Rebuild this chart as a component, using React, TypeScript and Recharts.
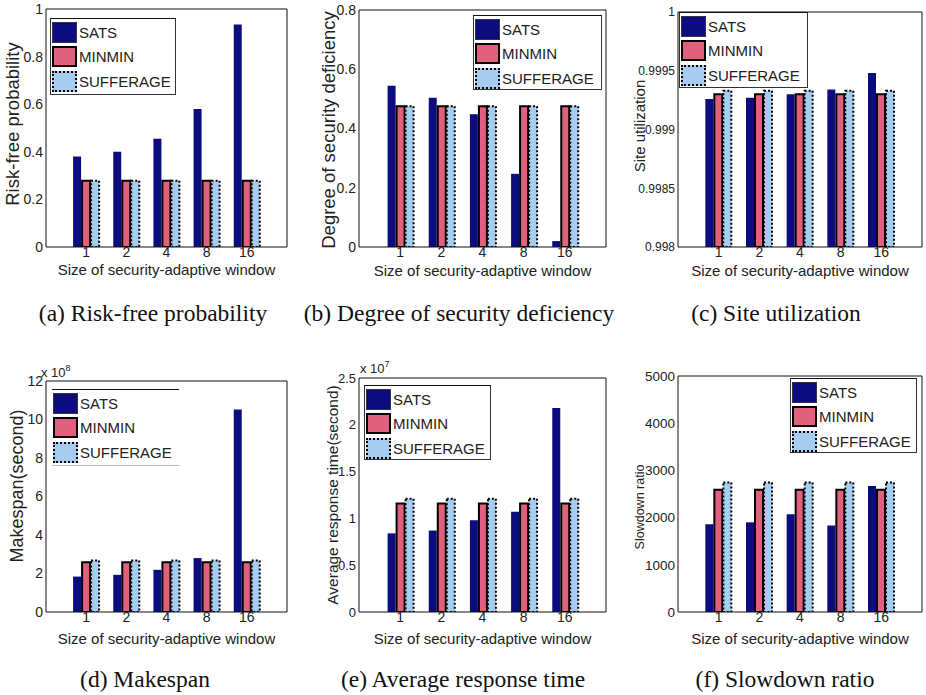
import React from 'react';
import { BarChart, Bar, XAxis, YAxis, Legend } from 'recharts';

// window sizes on the x axis
const windows = ['1', '2', '4', '8', '16'];

// (a) risk-free probability
const riskSats = [0.38, 0.4, 0.455, 0.58, 0.935];
const riskMinmin = [0.278, 0.278, 0.278, 0.278, 0.278];
const riskSufferage = [0.278, 0.278, 0.278, 0.278, 0.278];
const riskTicks = [0, 0.2, 0.4, 0.6, 0.8, 1];

// (b) degree of security deficiency
const defSats = [0.544, 0.504, 0.448, 0.247, 0.02];
const defMinmin = [0.475, 0.475, 0.475, 0.475, 0.475];
const defSufferage = [0.475, 0.475, 0.475, 0.475, 0.475];
const defTicks = [0, 0.2, 0.4, 0.6, 0.8];

// (c) site utilization
const utilSats = [0.99926, 0.99927, 0.9993, 0.99934, 0.99948];
const utilMinmin = [0.9993, 0.9993, 0.9993, 0.9993, 0.9993];
const utilSufferage = [0.99933, 0.99933, 0.99933, 0.99933, 0.99933];
const utilTicks = [0.998, 0.9985, 0.999, 0.9995, 1];

// (d) makespan, x 10^8 seconds
const makeSats = [1.84, 1.93, 2.19, 2.8, 10.52];
const makeMinmin = [2.58, 2.58, 2.58, 2.58, 2.58];
const makeSufferage = [2.67, 2.67, 2.67, 2.67, 2.67];
const makeTicks = [0, 2, 4, 6, 8, 10, 12];

// (e) average response time, x 10^7 seconds
const respSats = [0.84, 0.87, 0.98, 1.07, 2.18];
const respMinmin = [1.16, 1.16, 1.16, 1.16, 1.16];
const respSufferage = [1.21, 1.21, 1.21, 1.21, 1.21];
const respTicks = [0, 0.5, 1, 1.5, 2, 2.5];

// (f) slowdown ratio
const slowSats = [1860, 1900, 2070, 1830, 2670];
const slowMinmin = [2590, 2590, 2590, 2590, 2590];
const slowSufferage = [2745, 2745, 2745, 2745, 2745];
const slowTicks = [0, 1000, 2000, 3000, 4000, 5000];

const SANS = '"Liberation Sans", Arial, sans-serif';
const SERIF = '"Liberation Serif", "Times New Roman", serif';
const NAVY = '#0c0c80';
const PINK = '#e0607e';
const SKY = '#a6cdf0';
const INK = '#222';

const panels = [
  {
    sats: riskSats, minmin: riskMinmin, suff: riskSufferage, ticks: riskTicks,
    x: 46, y: 9, w: 241, h: 238, tickSize: 14,
    ylabel: 'Risk-free probability', yl: { x: 13, y: 124, s: 18.5 },
    legend: { x: 50, y: 18, w: 126, h: 77 },
    xlabelY: 269, caption: '(a) Risk-free probability', cap: { x: 153, y: 302 },
  },
  {
    sats: defSats, minmin: defMinmin, suff: defSufferage, ticks: defTicks,
    x: 359, y: 10, w: 247, h: 237, tickSize: 14,
    ylabel: 'Degree of security deficiency', yl: { x: 329, y: 130, s: 18.5 },
    legend: { x: 473, y: 15, w: 129, h: 75 },
    xlabelY: 270, caption: '(b) Degree of security deficiency', cap: { x: 459, y: 302 },
  },
  {
    sats: utilSats, minmin: utilMinmin, suff: utilSufferage, ticks: utilTicks,
    x: 678, y: 12, w: 244, h: 235, tickSize: 12,
    ylabel: 'Site utilization', yl: { x: 639, y: 126, s: 15 },
    legend: { x: 679, y: 12, w: 129, h: 76 },
    xlabelY: 270, caption: '(c) Site utilization', cap: { x: 776, y: 302 },
  },
  {
    sats: makeSats, minmin: makeMinmin, suff: makeSufferage, ticks: makeTicks,
    x: 46, y: 381, w: 241, h: 231, tickSize: 14,
    ylabel: 'Makespan(second)', yl: { x: 17, y: 486, s: 18 },
    legend: { x: 52, y: 389, w: 127, h: 77, open: true },
    exp: { x: 41, y: 364, e: '8' },
    xlabelY: 638, caption: '(d) Makespan', cap: { x: 145, y: 668 },
  },
  {
    sats: respSats, minmin: respMinmin, suff: respSufferage, ticks: respTicks,
    x: 359, y: 378, w: 247, h: 234, tickSize: 13,
    ylabel: 'Average response time(second)', yl: { x: 333, y: 495, s: 15.5 },
    legend: { x: 364, y: 385, w: 127, h: 75 },
    exp: { x: 360, y: 360, e: '7' },
    xlabelY: 638, caption: '(e) Average response time', cap: { x: 463, y: 668 },
  },
  {
    sats: slowSats, minmin: slowMinmin, suff: slowSufferage, ticks: slowTicks,
    x: 678, y: 376, w: 244, h: 236, tickSize: 13.5,
    ylabel: 'Slowdown ratio', yl: { x: 640, y: 507, s: 12.5 },
    legend: { x: 790, y: 378, w: 127, h: 75 },
    xlabelY: 638, caption: '(f) Slowdown ratio', cap: { x: 785, y: 668 },
  },
];

const swatches = [
  { name: 'SATS', style: { background: NAVY, border: '1px solid #334' } },
  { name: 'MINMIN', style: { background: PINK, border: '2px solid #000' } },
  { name: 'SUFFERAGE', style: { background: SKY, border: '2px dotted #000' } },
];

const LegendBox = ({ w, h, open }: any) => (
  <div
    style={{
      width: w, height: h, boxSizing: 'border-box', background: '#fff',
      border: open ? 'none' : '1px solid #333',
      borderTop: '1px solid #111', borderBottom: open ? '1px solid #bbb' : '1px solid #333',
      paddingTop: 1, fontFamily: SANS, fontSize: 15, color: INK,
    }}
  >
    {swatches.map((s) => (
      <div key={s.name} style={{ display: 'flex', alignItems: 'center', height: 24.5 }}>
        <div style={{ width: 25, height: 21, marginLeft: 1, boxSizing: 'border-box', ...s.style }} />
        <span style={{ marginLeft: 2, lineHeight: 1 }}>{s.name}</span>
      </div>
    ))}
  </div>
);

const ML = 50, MT = 12, MB = 28, MR = 8;

function Panel({ p }: { p: any }) {
  const data = windows.map((w, i) => ({
    name: w, SATS: p.sats[i], MINMIN: p.minmin[i], SUFFERAGE: p.suff[i],
  }));
  const pad = p.w / 12;
  const domain = [p.ticks[0], p.ticks[p.ticks.length - 1]];
  const frame = { stroke: '#111', strokeWidth: 1 };
  return (
    <div style={{ position: 'absolute', left: p.x - ML, top: p.y - MT }}>
      <BarChart
        width={p.w + ML + MR}
        height={p.h + MT + MB}
        data={data}
        margin={{ top: MT, right: MR, bottom: 0, left: 0 }}
        barSize={8}
        barGap={1}
      >
        <XAxis
          dataKey="name" height={MB} interval={0} padding={{ left: pad, right: pad }}
          axisLine={frame} tickLine={false} tickSize={0} tickMargin={0}
          tick={{ fill: INK, fontSize: 14, fontFamily: SANS }}
        />
        <XAxis
          xAxisId="top" orientation="top" mirror dataKey="name" interval={0}
          padding={{ left: pad, right: pad }} axisLine={frame} tick={false}
          tickSize={3} tickLine={frame}
        />
        <XAxis
          xAxisId="inner" orientation="bottom" mirror dataKey="name" interval={0}
          padding={{ left: pad, right: pad }} axisLine={false} tick={false}
          tickSize={3} tickLine={frame}
        />
        <YAxis
          type="number" width={ML} domain={domain} ticks={p.ticks} allowDataOverflow
          axisLine={frame} tickLine={false} tickSize={0} tickMargin={3}
          tick={{ fill: INK, fontSize: p.tickSize, fontFamily: SANS }}
        />
        <YAxis
          yAxisId="inner" type="number" mirror domain={domain} ticks={p.ticks}
          allowDataOverflow axisLine={false} tick={false} tickSize={3} tickLine={frame}
        />
        <YAxis
          yAxisId="right" orientation="right" type="number" mirror domain={domain}
          ticks={p.ticks} allowDataOverflow axisLine={frame} tick={false}
          tickSize={3} tickLine={frame}
        />
        <Legend
          layout="vertical" align="center" verticalAlign="middle"
          wrapperStyle={{
            left: p.legend.x - (p.x - ML), top: p.legend.y - (p.y - MT),
            width: p.legend.w, height: p.legend.h,
          }}
          content={() => <LegendBox {...p.legend} />}
        />
        <Bar dataKey="SATS" fill={NAVY} isAnimationActive={false} />
        <Bar dataKey="MINMIN" fill={PINK} stroke="#000" strokeWidth={2} isAnimationActive={false} />
        <Bar
          dataKey="SUFFERAGE" fill={SKY} stroke="#000" strokeWidth={2}
          strokeDasharray="2 2" isAnimationActive={false}
        />
      </BarChart>
    </div>
  );
}

const abs = (x: number, y: number): React.CSSProperties => ({
  position: 'absolute', left: x, top: y, whiteSpace: 'nowrap', lineHeight: 1,
});

export default function App() {
  return (
    <div style={{ position: 'relative', width: 926, height: 695, background: '#fff', overflow: 'hidden' }}>
      <style>{'body { margin: 0; }'}</style>
      {panels.map((p, i) => (
        <React.Fragment key={i}>
          <Panel p={p} />
          <div
            style={{
              ...abs(p.yl.x, p.yl.y), transform: 'translate(-50%, -50%) rotate(-90deg)',
              fontFamily: SANS, fontSize: p.yl.s, color: INK,
            }}
          >
            {p.ylabel}
          </div>
          <div
            style={{
              ...abs(p.x + p.w / 2, p.xlabelY), transform: 'translate(-50%, -50%)',
              fontFamily: SANS, fontSize: 15, color: INK,
            }}
          >
            Size of security-adaptive window
          </div>
          {p.exp && (
            <div style={{ ...abs(p.exp.x, p.exp.y), fontFamily: SANS, fontSize: 13, color: INK }}>
              x 10<sup style={{ fontSize: 9, verticalAlign: 6 }}>{p.exp.e}</sup>
            </div>
          )}
          <div
            style={{
              ...abs(p.cap.x, p.cap.y), transform: 'translateX(-50%)',
              fontFamily: SERIF, fontSize: 23.5, color: '#111',
            }}
          >
            {p.caption}
          </div>
        </React.Fragment>
      ))}
    </div>
  );
}
